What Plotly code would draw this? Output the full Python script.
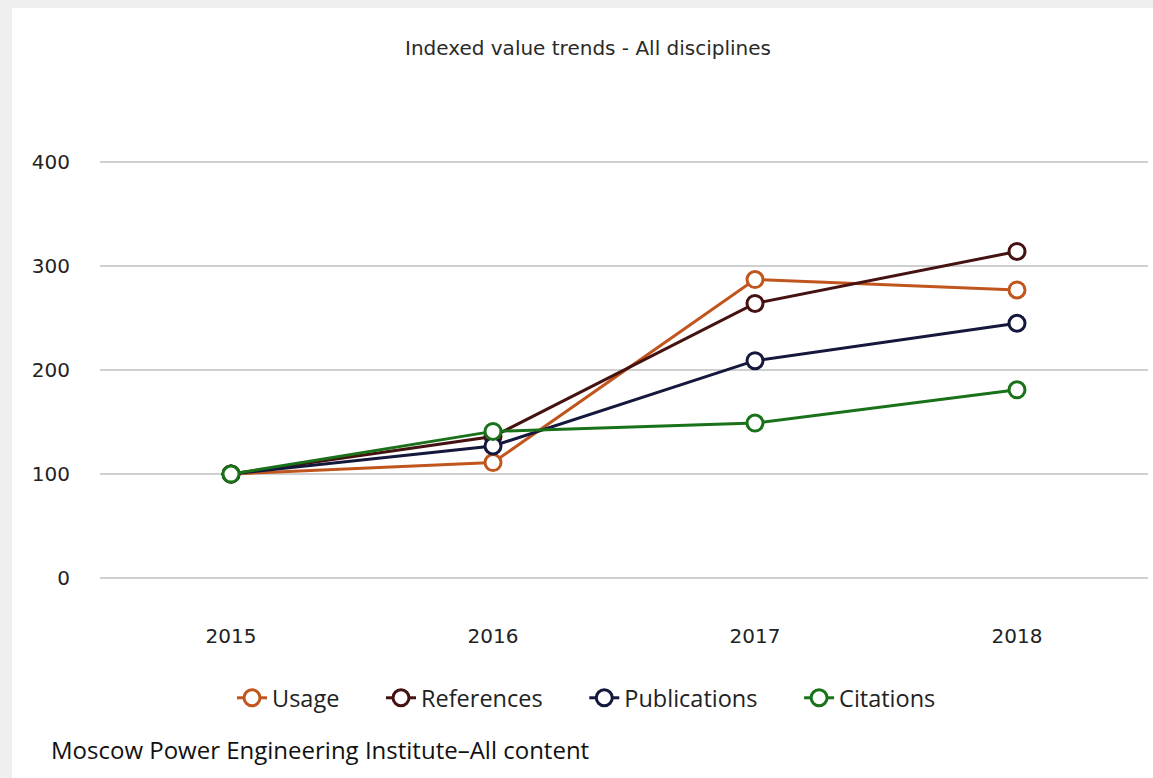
import plotly.graph_objects as go

years = ["2015", "2016", "2017", "2018"]
usage = [100, 111, 287, 277]
references = [100, 136, 264, 314]
publications = [100, 127, 209, 245]
citations = [100, 141, 149, 181]

series_names = ["Usage", "References", "Publications", "Citations"]
series_values = [usage, references, publications, citations]
colors = ["#c0561e", "#451212", "#13183c", "#197219"]

W, H = 1153, 778
ML, MR, MT, MB = 100, 5, 120, 162

NBSP = "\u00a0" * 6

fig = go.Figure()
for i, (name, vals, col) in enumerate(zip(series_names, series_values, colors)):
    label = name + (NBSP if i < len(series_names) - 1 else "")
    fig.add_trace(go.Scatter(
        x=years, y=vals, name=label, mode="lines+markers",
        line=dict(color=col, width=3),
        marker=dict(symbol="circle", size=16, color="white",
                    line=dict(color=col, width=3)),
    ))

pw = W - ML - MR
ph = H - MT - MB

def px_x(p):
    return (p - ML) / pw

def px_y(p):
    return (H - MB - p) / ph

fig.add_shape(type="rect", xref="paper", yref="paper",
              x0=px_x(12), x1=px_x(W + 5), y0=px_y(H + 5), y1=px_y(8),
              fillcolor="white", line=dict(width=0), layer="below")

fig.update_layout(
    width=W, height=H,
    margin=dict(l=ML, r=MR, t=MT, b=MB),
    paper_bgcolor="#efefef",
    plot_bgcolor="rgba(0,0,0,0)",
    showlegend=True,
    title=dict(text="Indexed value trends - All disciplines",
               x=px_x(588), xref="paper", xanchor="center",
               y=1 - 48 / H, yanchor="middle",
               font=dict(family="DejaVu Sans", size=20, color="#2a2a2a")),
    legend=dict(orientation="h", x=px_x(232), xanchor="left",
                y=px_y(698), yanchor="middle",
                font=dict(family="Open Sans", size=23.5, color="#222222"),
                itemwidth=30, bgcolor="rgba(0,0,0,0)", traceorder="normal"),
    xaxis=dict(type="category", range=[-0.5, 3.5], showgrid=False,
               showline=False, zeroline=False,
               ticks="outside", ticklen=2, tickcolor="rgba(0,0,0,0)",
               tickfont=dict(family="DejaVu Sans", size=20, color="#222222")),
    yaxis=dict(range=[-36.5, 440.4], tickvals=[0, 100, 200, 300, 400],
               showgrid=True, gridcolor="#cfcfcf", gridwidth=1.5,
               zeroline=False, showline=False,
               ticks="outside", ticklen=25, tickcolor="rgba(0,0,0,0)",
               tickfont=dict(family="DejaVu Sans", size=20, color="#222222")),
    font=dict(family="Open Sans"),
)

fig.add_annotation(text="Moscow Power Engineering Institute\u2013All content",
                   xref="paper", yref="paper", x=px_x(49), y=px_y(750),
                   xanchor="left", yanchor="middle", showarrow=False,
                   font=dict(family="Open Sans", size=24, color="#111111"))

fig.write_html("out.html", config={"displayModeBar": False},
               post_script="document.body.style.margin='0';document.body.style.overflow='hidden';")
